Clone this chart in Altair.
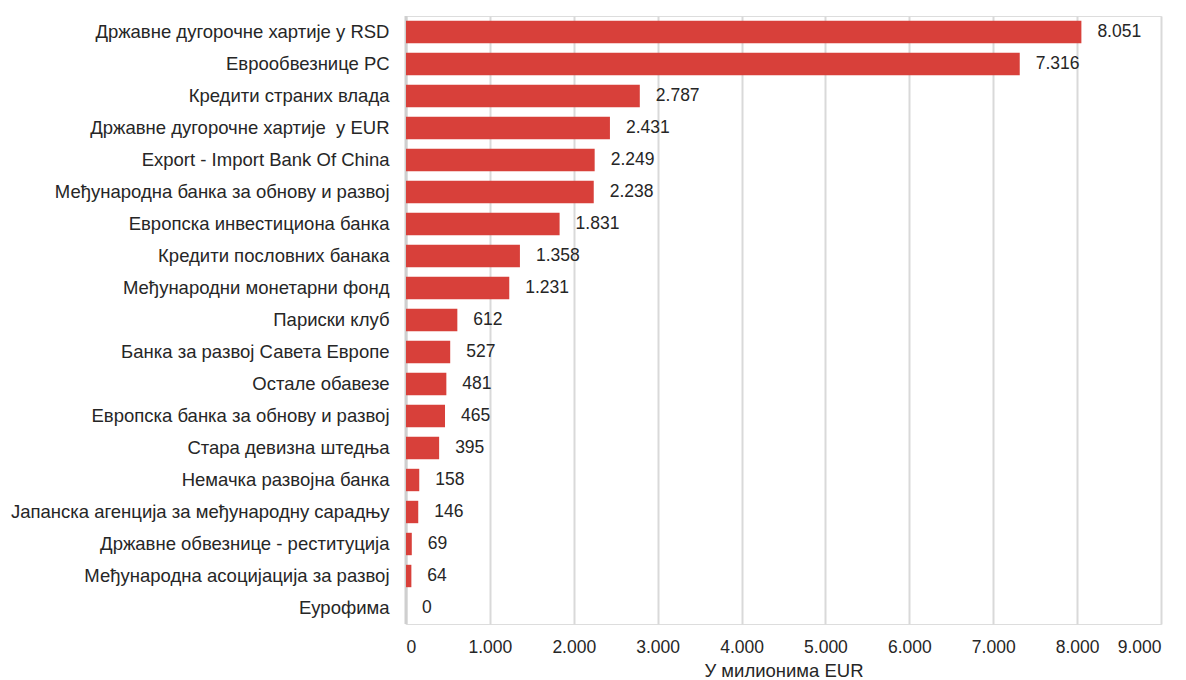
import altair as alt
import pandas as pd

categories = [
    "Државне дугорочне хартије у RSD",
    "Еврообвезнице РС",
    "Кредити страних влада",
    "Државне дугорочне хартије\u00a0 у EUR",
    "Export - Import Bank Of China\u00a0",
    "Међународна банка за обнову и развој",
    "Европска инвестициона банка",
    "Кредити пословних банака",
    "Међународни монетарни фонд",
    "Париски клуб",
    "Банка за развој Савета Европе",
    "Остале обавезе",
    "Европска банка за обнову и развој",
    "Стара девизна штедња",
    "Немачка развојна банка",
    "Јапанска агенција за међународну сарадњу",
    "Државне обвезнице - реституција",
    "Међународна асоцијација за развој",
    "Еурофима",
]
values = [8051, 7316, 2787, 2431, 2249, 2238, 1831, 1358, 1231, 612, 527, 481, 465, 395, 158, 146, 69, 64, 0]

df = pd.DataFrame({"cat": categories, "val": values})

FONT = "Liberation Sans"
BAR = "#d8403a"
TXT = "#262626"
FS = 17.5
FS_CAT = 18.5

base = alt.Chart(df).transform_calculate(
    lbl="replace(format(datum.val, ','), ',', '.')"
)

y_enc = alt.Y("cat:N", sort=categories, title=None,
              scale=alt.Scale(paddingInner=0.3, paddingOuter=0.15),
              axis=alt.Axis(domain=False, ticks=False, labelFontSize=FS_CAT, labelFont=FONT,
                            labelColor=TXT, labelPadding=17, labelLimit=600))

bars = base.mark_bar(color=BAR).encode(
    x=alt.X("val:Q", title="У милионима EUR",
            scale=alt.Scale(domain=[0, 9000], nice=False),
            axis=alt.Axis(values=list(range(0, 9001, 1000)), domain=False, ticks=False,
                          grid=True, gridColor="#d9d9d9", gridWidth=2,
                          labelFontSize=FS, labelFont=FONT, labelColor=TXT,
                          labelPadding=14,
                          labelExpr="replace(format(datum.value, ','), ',', '.')",
                          titleFontSize=FS_CAT, titleFont=FONT, titleColor=TXT,
                          titleFontWeight="normal", titlePadding=6)),
    y=y_enc,
)

zero = alt.Chart(pd.DataFrame({"z": [0]})).mark_rule(color="#cfcfcf", strokeWidth=3).encode(
    x=alt.X("z:Q")
)

texts = base.mark_text(align="left", baseline="middle", dx=16, fontSize=FS, font=FONT,
                       color=TXT).encode(
    x=alt.X("val:Q"),
    y=alt.Y("cat:N", sort=categories),
    text="lbl:N",
)

chart = alt.layer(zero, bars, texts).properties(
    width=755, height=608, padding={"left": 2, "top": 6, "right": 5, "bottom": 5}
).configure_view(stroke=None).configure(background="white")

chart.save("out.html", embed_options={"renderer": "svg", "actions": False})
